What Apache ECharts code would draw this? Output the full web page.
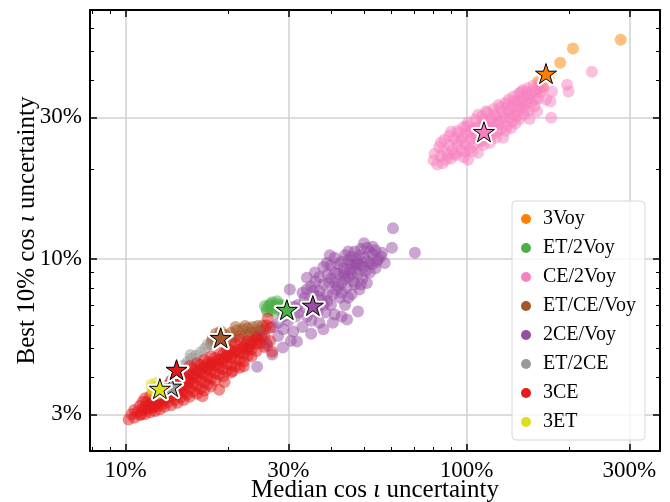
<!DOCTYPE html>
<html>
<head>
<meta charset="utf-8">
<script src="https://cdn.jsdelivr.net/npm/echarts@6/dist/echarts.min.js"></script>
<style>
  html, body { margin: 0; padding: 0; background: #fff; }
  #chart { width: 670px; height: 502px; }
</style>
</head>
<body>
<div id="chart"></div>
<script>
// network names, legend order
const names = ['3Voy', 'ET/2Voy', 'CE/2Voy', 'ET/CE/Voy', '2CE/Voy', 'ET/2CE', '3CE', '3ET']
const colors = ['#ff7f00', '#4daf4a', '#f781bf', '#a65628', '#984ea3', '#999999', '#e41a1c', '#dede1f']

// [median %, best 10% %]
const pts3Voy = [[283, 54.7], [205, 51.1], [188, 45.8], [167, 38.0], [162, 39.5], [174, 41]]
const ptsET2Voy = [[25.9, 6.8], [26.3, 6.95], [26.7, 6.75], [27.1, 7.0], [27.5, 6.85], [27.9, 7.05], [28.3, 6.9],
  [28.7, 7.0], [29.1, 6.8], [26.0, 6.65], [27.2, 6.65], [28.5, 6.7], [29.5, 6.95], [26.6, 7.05], [25.6, 6.95],
  [27.8, 7.2], [26.9, 7.15]]
const ptsCE2Voy = [[80, 21.5], [80.5, 22.6], [82, 20.8], [83, 23.8], [84, 22.2], [85, 21], [86, 23.2], [86, 25.2],
  [88, 22.4], [89, 24.2], [90, 21.8], [90, 26.8], [91, 23.4], [92, 25.4], [93, 22.4], [94, 24.4], [95, 26.6],
  [96, 23.2], [97, 25.6], [98, 22], [98, 27.8], [99, 24.4], [100, 26.4], [101, 21.6], [101, 28.8], [102, 23.6],
  [103, 25.4], [104, 27.4], [105, 24.4], [106, 29.5], [107, 26.2], [108, 22.8], [108, 28], [109, 25], [110, 27],
  [111, 30.3], [112, 24.2], [113, 28.6], [114, 26.3], [115, 31.2], [116, 27.6], [117, 24.6], [118, 29.6],
  [119, 26.2], [120, 32], [121, 28.2], [122, 30.4], [123, 26.8], [124, 33], [125, 29.2], [126, 27.4],
  [127, 31.4], [128, 25.6], [129, 29.6], [130, 33.6], [131, 28], [132, 31.6], [133, 34.4], [134, 29.8],
  [135, 27.6], [136, 32.6], [137, 35.2], [138, 30.6], [139, 28.6], [140, 33.8], [141, 31.6], [142, 36],
  [143, 29.6], [144, 34.6], [145, 32.4], [146, 37], [147, 30.6], [148, 35.2], [150, 33.4], [151, 37.6],
  [152, 31.4], [154, 35.8], [155, 33.8], [157, 38.4], [158, 32.6], [160, 36.4], [162, 34.6], [164, 38.8],
  [165, 36.4], [161, 31.4], [153, 29.6],
  [84, 24.6], [87, 21.6], [89, 26], [92, 22.6], [94, 27], [96, 25], [99, 23], [100, 28], [102, 26.8], [104, 23],
  [106, 25.6], [108, 30.6], [110, 24.8], [112, 29.2], [114, 31.4], [116, 25.8], [118, 27.8], [120, 30.6],
  [122, 25.6], [124, 28.4], [126, 32.4], [128, 30.2], [130, 27], [132, 33], [134, 31.2], [136, 29], [138, 34],
  [140, 30.2], [142, 32.8], [144, 36.4], [146, 33.6], [148, 31.8], [150, 36.4], [152, 34.6], [156, 36.8],
  [159, 34.4], [163, 37.4], [107, 27.6], [113, 26.8], [119, 28.8],
  [233, 42.7], [197, 38.6], [199, 36.6], [178, 36.6], [176, 33.9], [177, 29.9], [168, 37.6], [171, 34.4]]
const ptsETCEVoy = [[17.8, 5.15], [18.0, 5.4], [18.4, 5.25], [18.8, 5.5], [19.2, 5.3], [19.6, 5.55], [20.0, 5.35],
  [20.4, 5.65], [20.8, 5.45], [21.2, 5.75], [21.6, 5.5], [22.0, 5.8], [22.4, 5.55], [22.8, 5.85], [23.2, 5.65],
  [23.6, 5.9], [24.0, 5.7], [24.4, 5.95], [24.8, 5.75], [25.2, 5.97], [25.6, 5.8], [19.0, 5.7], [21.0, 5.9],
  [23.0, 5.5], [25.0, 5.55], [18.4, 5.6], [20.4, 5.25], [22.4, 5.95], [24.4, 5.5], [17.9, 5.3]]
const pts2CEVoy = [[60.8, 12.7], [70.5, 10.5], [60.4, 10.9], [56.5, 10.5], [51, 10.9], [54.6, 9.8], [57.5, 9.7],
  [52, 9.0], [48, 6.65], [44.6, 6.25], [40.5, 6.1], [39.7, 10.3], [38.9, 9.7], [35.9, 9.0], [34, 8.65],
  [30.3, 7.9], [31.8, 5.27], [28.9, 5.03], [26.9, 4.77], [24.3, 4.34], [22.7, 4.95], [25.9, 5.2],
  [30, 6.2], [31, 5.7], [32, 6.6], [33, 5.9], [33.5, 7.4], [34, 6.4], [35, 5.6], [35.5, 7.8], [36, 6.8],
  [37, 6.1], [37.5, 7.3], [38, 8.2], [38.5, 6.6], [39, 7.6], [40, 8.6], [40, 7.0], [41, 6.5], [41.5, 7.9],
  [42, 8.9], [42.5, 7.4], [43, 8.3], [43.5, 9.3], [44, 7.0], [44.5, 8.0], [45, 8.7], [45.5, 9.6], [46, 7.6],
  [46.5, 8.4], [47, 9.2], [47.5, 10.0], [48, 8.9], [48.5, 7.9], [49, 9.5], [49.5, 8.6], [50, 10.1], [50.5, 9.1],
  [51, 8.3], [52, 9.7], [53, 10.4], [54, 9.3], [55, 10.0], [45, 9.9], [42, 9.6], [39, 8.9], [36, 8.4], [34, 7.9],
  [28, 5.5], [27, 5.9], [29, 6.4], [26, 5.1], [25, 5.5], [43, 6.4], [38, 5.8], [47, 10.6], [44, 10.3],
  [50, 11.3], [53, 11.0], [40, 9.5], [36.5, 7.5], [32, 7.0], [30.5, 5.3], [29, 5.8], [44, 9.0], [46, 8.9],
  [41, 8.3], [48, 9.7],
  [31.5, 6.4], [33, 6.9], [34.5, 7.2], [35, 6.2], [36.5, 6.6], [37, 7.8], [38, 7.0], [39.5, 8.3], [40.5, 7.6],
  [41, 9.0], [42, 8.1], [43, 7.7], [43, 9.8], [44, 8.6], [45, 7.4], [45.5, 9.2], [46, 10.2], [47, 8.2],
  [47.5, 9.6], [48.5, 10.3], [49, 8.2], [50, 9.4], [51, 9.8], [52, 10.6], [53, 9.6], [54, 10.7], [56, 10.2],
  [38, 9.4], [35, 8.1], [33, 7.7], [41, 10.1], [37, 8.7], [39, 7.2], [43.5, 8.8], [46.5, 9.6], [31, 6.9],
  [28, 6.1], [30, 6.8], [49, 10.8], [45, 10.6]]
const ptsET2CE = [[13.2, 3.7], [13.6, 3.9], [14.0, 4.05], [14.4, 4.2], [14.8, 4.38], [15.2, 4.5], [15.6, 4.62],
  [16.1, 4.72], [16.6, 4.85], [17.1, 5.0], [14.2, 3.8], [15.0, 4.15], [16.0, 4.45], [17.4, 5.15], [13.0, 3.55],
  [15.5, 4.75]]
const pts3CE = [[10.2, 2.88], [10.4, 3.0], [10.6, 2.92], [10.6, 3.1], [10.8, 3.05], [11.0, 2.98], [11.0, 3.2],
  [11.2, 3.1], [11.2, 3.3], [11.4, 3.0], [11.4, 3.2], [11.4, 3.4], [11.6, 3.12], [11.6, 3.32], [11.8, 3.05],
  [11.8, 3.24], [11.8, 3.45], [12.0, 3.15], [12.0, 3.36], [12.0, 3.55], [12.2, 3.08], [12.2, 3.28],
  [12.4, 3.2], [12.4, 3.42], [12.4, 3.62], [12.6, 3.12], [12.6, 3.34], [12.6, 3.55], [12.8, 3.25],
  [12.8, 3.48], [12.8, 3.7], [13.0, 3.18], [13.0, 3.4], [13.0, 3.62], [13.3, 3.3], [13.3, 3.52], [13.3, 3.76],
  [13.6, 3.22], [13.6, 3.44], [13.6, 3.66], [13.6, 3.88], [13.9, 3.36], [13.9, 3.58], [13.9, 3.8],
  [14.2, 3.28], [14.2, 3.5], [14.2, 3.72], [14.2, 3.96], [14.5, 3.42], [14.5, 3.64], [14.5, 3.88], [14.5, 4.1],
  [14.8, 3.35], [14.8, 3.56], [14.8, 3.78], [14.8, 4.02], [15.1, 3.5], [15.1, 3.72], [15.1, 3.95], [15.1, 4.2],
  [15.4, 3.44], [15.4, 3.66], [15.4, 3.88], [15.4, 4.12], [15.4, 4.36], [15.8, 3.58], [15.8, 3.8], [15.8, 4.04],
  [15.8, 4.28], [16.2, 3.52], [16.2, 3.74], [16.2, 3.98], [16.2, 4.22], [16.2, 4.46], [16.6, 3.66], [16.6, 3.9],
  [16.6, 4.14], [16.6, 4.4], [17.0, 3.6], [17.0, 3.84], [17.0, 4.08], [17.0, 4.32], [17.0, 4.58], [17.4, 3.78],
  [17.4, 4.02], [17.4, 4.26], [17.4, 4.5], [17.8, 3.72], [17.8, 3.96], [17.8, 4.2], [17.8, 4.45], [17.8, 4.7],
  [18.3, 3.9], [18.3, 4.14], [18.3, 4.38], [18.3, 4.64], [18.8, 3.63], [18.8, 4.08], [18.8, 4.32], [18.8, 4.58],
  [18.8, 4.84], [19.3, 4.02], [19.3, 4.26], [19.3, 4.52], [19.3, 4.78], [19.8, 4.2], [19.8, 4.45], [19.8, 4.72],
  [19.8, 5.0], [20.4, 4.15], [20.4, 4.4], [20.4, 4.66], [20.4, 4.94], [21.0, 4.35], [21.0, 4.6], [21.0, 4.88],
  [21.0, 5.16], [21.6, 4.3], [21.6, 4.56], [21.6, 4.82], [21.6, 5.35], [22.2, 4.52], [22.2, 4.78], [22.2, 5.06],
  [22.8, 4.72], [22.8, 5.0], [22.8, 5.28], [23.4, 4.7], [23.4, 4.96], [23.4, 5.22], [24.2, 4.9], [24.2, 5.18],
  [24.2, 5.46], [24.8, 5.2], [25.5, 5.05], [25.5, 5.5], [26.1, 6.3], [26.5, 5.3], [26.5, 5.87], [26.9, 4.87],
  [25.9, 5.97],
  [11.1, 3.0], [11.5, 3.15], [12.1, 3.2], [12.5, 3.3], [12.9, 3.35], [13.4, 3.45], [13.8, 3.55], [14.3, 3.6],
  [14.7, 3.72], [15.2, 3.85], [15.6, 3.95], [16.0, 4.1], [16.4, 4.2], [16.9, 4.3], [17.3, 4.4], [17.7, 4.35],
  [18.1, 4.5], [18.6, 4.45], [19.1, 4.6], [19.6, 4.65], [20.1, 4.8], [20.7, 4.8], [21.3, 4.95], [21.9, 5.0],
  [22.5, 5.15], [23.1, 5.1], [23.8, 5.3], [24.5, 5.35], [16.8, 3.45], [20.6, 4.2], [22.2, 4.35], [19.5, 3.85]]
const pts3ET = [[11.9, 3.78], [12.1, 3.62], [12.3, 3.82], [12.5, 3.6], [12.2, 3.7], [12.0, 3.55], [12.6, 3.75],
  [11.95, 3.68], [12.4, 3.52]]

// best-network markers (stars), same order as names
const starPts = [[170.9, 42.1], [29.7, 6.75], [112.4, 26.8], [19.0, 5.43], [35.4, 6.97], [13.6, 3.72], [14.1, 4.24], [12.6, 3.66]]

// axes (percent)
const xMin = 7.86
const xMax = 369
const yMin = 2.257
const yMax = 68.9
const xMajor = [10, 30, 100, 300]
const xMinor = [8, 9, 20, 40, 50, 60, 70, 80, 90, 200]
const yMajor = [3, 10, 30]
const yMinor = [4, 5, 6, 7, 8, 9, 20, 40, 50, 60]

const groups = [pts3Voy, ptsET2Voy, ptsCE2Voy, ptsETCEVoy, pts2CEVoy, ptsET2CE, pts3CE, pts3ET]
const font = 'Liberation Serif'
const starPath = 'path://M0,-100L22.45,-30.9L95.11,-30.9L36.33,11.8L58.78,80.9L0,38.2L-58.78,80.9L-36.33,11.8L-95.11,-30.9L-22.45,-30.9Z'

const lg = v => Math.log10(v)

// one axis per tick set; log values on a linear axis
const makeAxis = (position, min, max, ticks, len, main, labels) => ({
  type: 'value',
  position,
  min: lg(min),
  max: lg(max),
  axisLine: { show: main, onZero: false, lineStyle: { color: '#000', width: 2 } },
  axisTick: {
    show: true,
    inside: true,
    length: len,
    customValues: ticks.map(lg),
    lineStyle: { color: '#000', width: main ? 1.5 : 1 }
  },
  axisLabel: {
    show: labels,
    customValues: ticks.map(lg),
    formatter: v => Math.round(Math.pow(10, v)) + '%',
    fontFamily: font,
    fontSize: 23,
    color: '#000',
    margin: 8
  },
  splitLine: { show: labels, lineStyle: { color: '#d0d0d0', width: 1.5 } },
  minorTick: { show: false },
  axisPointer: { show: false }
})

const xAxes = [
  makeAxis('bottom', xMin, xMax, xMajor, 7, true, true),
  makeAxis('bottom', xMin, xMax, xMinor, 4, false, false),
  makeAxis('top', xMin, xMax, xMajor, 7, true, false),
  makeAxis('top', xMin, xMax, xMinor, 4, false, false)
]
const yAxes = [
  makeAxis('left', yMin, yMax, yMajor, 7, true, true),
  makeAxis('left', yMin, yMax, yMinor, 4, false, false),
  makeAxis('right', yMin, yMax, yMajor, 7, true, false),
  makeAxis('right', yMin, yMax, yMinor, 4, false, false)
]

const nameStyle = {
  fontFamily: font,
  fontSize: 25,
  color: '#000',
  rich: { i: { fontFamily: font, fontSize: 25, fontStyle: 'italic', color: '#000' } }
}
Object.assign(xAxes[0], {
  name: 'Median cos {i|ι} uncertainty',
  nameLocation: 'middle',
  nameGap: 27,
  nameMoveOverlap: false,
  nameTextStyle: nameStyle
})
Object.assign(yAxes[0], {
  name: 'Best 10% cos {i|ι} uncertainty',
  nameLocation: 'middle',
  nameGap: 50,
  nameMoveOverlap: false,
  nameTextStyle: nameStyle
})

const series = groups.map((g, i) => ({
  name: names[i],
  type: 'scatter',
  symbol: 'circle',
  symbolSize: 12,
  data: g.map(p => [lg(p[0]), lg(p[1])]),
  itemStyle: { color: colors[i], opacity: 0.5 },
  silent: true
}))

// halo + star, interleaved so later stars sit on top of earlier ones
starPts.forEach((p, i) => {
  const v = [lg(p[0]), lg(p[1])]
  series.push({
    name: 'halo' + i,
    type: 'scatter',
    symbol: starPath,
    symbolKeepAspect: true,
    symbolSize: 21,
    data: [v],
    itemStyle: { color: '#fff', borderColor: '#fff', borderWidth: 5, borderJoin: 'round', opacity: 1 },
    silent: true
  })
  series.push({
    name: 'star' + i,
    type: 'scatter',
    symbol: starPath,
    symbolKeepAspect: true,
    symbolSize: 21,
    data: [v],
    itemStyle: { color: colors[i], borderColor: '#000', borderWidth: 1, opacity: 1 },
    silent: true
  })
})

const chart = echarts.init(document.getElementById('chart'))
chart.setOption({
  animation: false,
  grid: { left: 90, right: 10, top: 10, bottom: 51, outerBoundsMode: 'none', containLabel: false },
  xAxis: xAxes,
  yAxis: yAxes,
  legend: {
    orient: 'vertical',
    left: 512,
    top: 201,
    data: names,
    icon: 'circle',
    itemWidth: 10,
    itemHeight: 10,
    itemGap: 9,
    padding: [8, 9, 8, 9],
    backgroundColor: 'rgba(255,255,255,0.8)',
    borderColor: '#d6d6d6',
    borderWidth: 1,
    borderRadius: 4,
    selectedMode: false,
    itemStyle: { opacity: 1 },
    textStyle: { fontFamily: font, fontSize: 20, color: '#000', padding: [0, 0, 0, 7] }
  },
  series
})
</script>
</body>
</html>
